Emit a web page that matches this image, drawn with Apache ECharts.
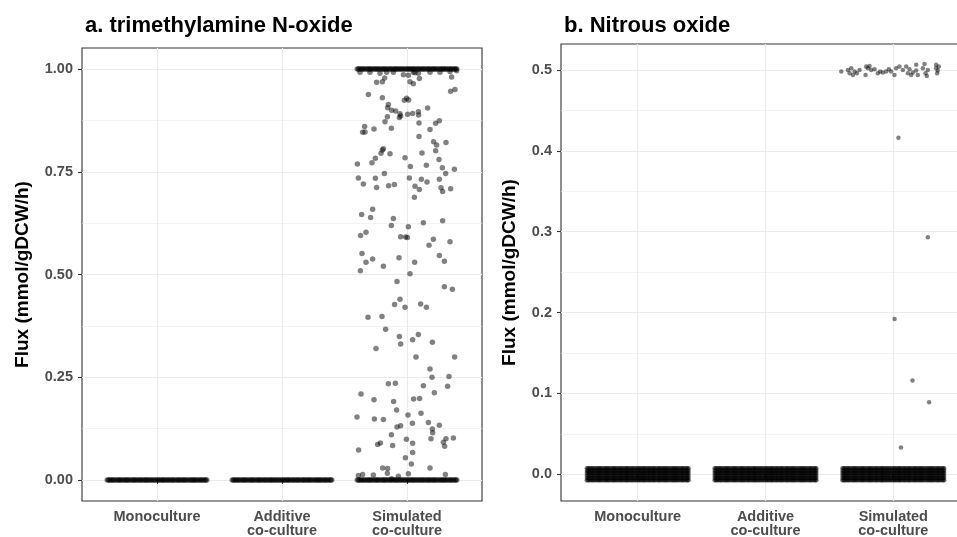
<!DOCTYPE html>
<html>
<head>
<meta charset="utf-8">
<script src="https://cdn.jsdelivr.net/npm/echarts@6/dist/echarts.min.js"></script>
<style>
  html, body { margin: 0; padding: 0; background: #fff; }
  #main { width: 957px; height: 537px; }
</style>
</head>
<body>
<div id="main"></div>
<script>
// categories on the x axis (positions 1, 2, 3)
var categories = ['Monoculture', 'Additive\nco-culture', 'Simulated\nco-culture'];
var catPos = [1, 2, 3];

// y tick labels
var yTicksA = [0, 0.25, 0.5, 0.75, 1];
var yMinorA = [0.125, 0.375, 0.625, 0.875];
var yTicksB = [0, 0.1, 0.2, 0.3, 0.4, 0.5];
var yMinorB = [0.05, 0.15, 0.25, 0.35, 0.45];

// horizontal jitter offsets used by the dense bands
var jitterX = [-0.398,-0.381,-0.36,-0.342,-0.319,-0.301,-0.282,-0.259,-0.241,-0.222,-0.198,-0.181,-0.162,-0.139,-0.121,
  -0.098,-0.082,-0.061,-0.041,-0.019,0.003,0.021,0.042,0.058,0.081,0.099,0.121,0.138,0.162,0.179,0.201,0.219,0.238,
  0.262,0.281,0.299,0.318,0.341,0.359,0.382,0.398,
  -0.389,-0.371,-0.351,-0.33,-0.309,-0.291,-0.27,-0.249,-0.231,-0.21,-0.19,-0.171,-0.15,-0.13,-0.109,-0.089,-0.071,
  -0.05,-0.03,-0.009,0.011,0.031,0.05,0.07,0.09,0.111,0.129,0.151,0.17,0.19,0.21,0.229,0.25,0.271,0.29,0.309,0.33,
  0.35,0.37,0.39];
// vertical jitter offsets of the bands in panel b
var jitterYB = [-0.0075, -0.0045, -0.0015, 0.0015, 0.0045, 0.0075];

// panel a: band levels per category
var bandLevelsA = [[0], [0], [0, 1]];
// panel a: simulated co-culture scattered points [x, flux]
var simPointsA = [
  [2.624,0.992],[2.704,0.992],[2.784,0.990],[2.837,0.992],[2.891,0.992],[3.051,0.992],[3.091,0.990],[3.184,0.992],
  [3.264,0.992],[3.344,0.994],[3.397,0.996],[2.971,0.986],[3.011,0.985],[3.064,0.991],[3.099,0.977],[3.024,0.969],
  [3.051,0.964],[3.357,0.981],[2.757,0.968],[2.803,0.969],[2.821,0.978],[2.691,0.938],[2.803,0.930],[2.979,0.924],
  [2.997,0.929],[3.013,0.925],[3.349,0.946],[3.384,0.950],[2.851,0.914],[2.845,0.906],[2.877,0.900],[2.909,0.898],
  [2.944,0.891],[2.939,0.882],[2.949,0.886],[2.843,0.884],[2.824,0.872],[3.005,0.890],[3.045,0.892],[3.091,0.896],
  [3.093,0.888],[3.165,0.905],[3.259,0.874],[3.229,0.868],[3.096,0.869],[2.661,0.860],[2.645,0.846],[2.664,0.847],
  [2.736,0.854],[2.875,0.856],[3.184,0.853],[3.096,0.836],[3.213,0.823],[3.237,0.815],[3.312,0.821],[3.229,0.801],
  [2.811,0.806],[2.803,0.803],[2.792,0.795],[2.864,0.794],[2.747,0.783],[2.720,0.772],[2.603,0.769],[2.984,0.784],
  [3.120,0.796],[3.027,0.763],[3.155,0.766],[3.256,0.780],[3.283,0.760],[3.309,0.746],[3.379,0.756],[2.611,0.735],
  [2.651,0.720],[2.747,0.734],[2.757,0.712],[2.819,0.746],[2.853,0.716],[2.899,0.719],[3.019,0.735],[3.064,0.715],
  [3.099,0.707],[3.115,0.732],[3.160,0.725],[3.259,0.732],[3.272,0.711],[3.285,0.702],[3.349,0.709],[3.059,0.688],
  [2.637,0.646],[2.709,0.639],[2.725,0.659],[2.891,0.636],[2.875,0.619],[3.011,0.616],[3.131,0.626],[3.285,0.631],
  [2.629,0.595],[2.672,0.603],[2.949,0.592],[2.989,0.591],[3.003,0.590],[3.211,0.586],
  [2.640,0.551],[2.672,0.530],[2.725,0.538],[2.627,0.509],[2.811,0.520],[2.936,0.541],[3.061,0.530],[3.024,0.502],
  [3.176,0.571],[3.344,0.580],[3.259,0.546],[3.299,0.532],[2.920,0.483],[3.299,0.470],[3.363,0.464],[2.944,0.440],
  [2.901,0.427],[2.984,0.420],[3.109,0.428],[3.155,0.420],[2.688,0.396],[2.800,0.398],[2.829,0.367],[2.939,0.349],
  [2.949,0.331],[2.752,0.320],[3.045,0.341],[3.091,0.354],[3.203,0.335],[3.072,0.299],[3.381,0.299],[3.184,0.270],
  [3.200,0.250],[3.336,0.252],[3.325,0.228],[3.131,0.229],[3.219,0.212],[2.851,0.234],[2.907,0.235],[2.632,0.209],
  [2.736,0.195],[2.893,0.191],[2.917,0.170],[3.053,0.197],[3.101,0.198],[2.600,0.153],[2.739,0.148],[2.811,0.147],
  [3.008,0.158],[3.112,0.162],[3.043,0.138],[3.171,0.140],[3.259,0.133],[2.920,0.129],[2.949,0.132],[2.875,0.110],
  [3.203,0.124],[3.205,0.115],[3.192,0.100],[3.312,0.100],[3.291,0.092],[3.301,0.082],[3.371,0.102],[2.995,0.099],
  [3.045,0.089],[3.045,0.067],[2.885,0.084],[2.765,0.086],[2.787,0.090],[2.613,0.073],[2.987,0.054],[3.035,0.039],
  [2.805,0.029],[2.845,0.028],[3.184,0.029],[2.843,0.016],[2.731,0.012],[2.611,0.011],[2.645,0.013],[2.931,0.009],
  [3.011,0.015],[3.307,0.013],[2.877,0.003]
];

// panel b: simulated co-culture points near 0.5 and the outliers [x, flux]
var simPointsB = [
  [2.593,0.4979],[2.645,0.5000],[2.658,0.4958],[2.671,0.5020],[2.684,0.4938],[2.697,0.4979],[2.715,0.4958],
  [2.736,0.5000],[2.783,0.4938],[2.788,0.5041],[2.801,0.5020],[2.814,0.5049],[2.827,0.5000],[2.853,0.5008],
  [2.879,0.4958],[2.897,0.4979],[2.918,0.4967],[2.944,0.4979],[2.965,0.5008],[2.983,0.4979],[3.009,0.4938],
  [3.022,0.5020],[3.048,0.5041],[3.075,0.5000],[3.101,0.5041],[3.114,0.4958],[3.127,0.5008],[3.140,0.4938],
  [3.153,0.4967],[3.179,0.5062],[3.179,0.4991],[3.192,0.4938],[3.231,0.5020],[3.244,0.5074],[3.252,0.4958],
  [3.270,0.5000],[3.262,0.4925],[3.335,0.5062],[3.335,0.5020],[3.348,0.4991],[3.343,0.4958],[3.356,0.5041],
  [3.040,0.416],[3.270,0.293],[3.010,0.192],[3.150,0.116],[3.280,0.089],[3.060,0.033]
];

function bandPoints(levels, yOffsets) {
  var pts = [];
  levels.forEach(function (lv, ci) {
    lv.forEach(function (level) {
      jitterX.forEach(function (dx) {
        yOffsets.forEach(function (dy) {
          pts.push([catPos[ci] + dx, level + dy]);
        });
      });
    });
  });
  return pts;
}

var font = 'Liberation Sans';
var gridColor = '#EBEBEB';
var pointColor = 'rgba(0,0,0,0.62)';

function xAxisFor(gi) {
  return {
    type: 'value', gridIndex: gi, min: 0.4, max: 3.6,
    axisLine: { show: false },
    axisTick: { show: true, customValues: catPos, length: 4, lineStyle: { color: '#333', width: 1.1 } },
    axisLabel: {
      customValues: catPos, margin: 9,
      fontFamily: font, fontSize: 14.5, fontWeight: 'bold', color: '#4D4D4D', lineHeight: 14,
      formatter: function (v) { return categories[Math.round(v) - 1]; }
    },
    splitLine: { show: true, lineStyle: { color: gridColor, width: 1.1 } }
  };
}

function yAxisFor(gi, min, max, ticks, digits, gap) {
  return {
    type: 'value', gridIndex: gi, min: min, max: max,
    name: 'Flux (mmol/gDCW/h)', nameLocation: 'middle', nameGap: gap,
    nameTextStyle: { fontFamily: font, fontSize: 19, fontWeight: 'bold', color: '#000' },
    axisLine: { show: false },
    axisTick: { show: true, customValues: ticks, length: 4, lineStyle: { color: '#333', width: 1.1 } },
    axisLabel: {
      customValues: ticks, margin: 9,
      fontFamily: font, fontSize: 14.5, fontWeight: 'bold', color: '#4D4D4D',
      formatter: function (v) { return v.toFixed(digits); }
    },
    splitLine: { show: true, lineStyle: { color: gridColor, width: 1.1 } }
  };
}

function minorAxisFor(gi, min, max, ticks) {
  return {
    type: 'value', gridIndex: gi, min: min, max: max,
    axisLine: { show: false },
    axisTick: { show: false, customValues: ticks },
    axisLabel: { show: false, customValues: ticks },
    splitLine: { show: true, lineStyle: { color: gridColor, width: 0.6 } }
  };
}

var chart = echarts.init(document.getElementById('main'));
chart.setOption({
  animation: false,
  backgroundColor: '#fff',
  title: [
    { text: 'a. trimethylamine N-oxide', left: 80, top: 10,
      textStyle: { fontFamily: font, fontSize: 22, fontWeight: 'bold', color: '#000' } },
    { text: 'b. Nitrous oxide', left: 559, top: 10,
      textStyle: { fontFamily: font, fontSize: 22, fontWeight: 'bold', color: '#000' } }
  ],
  grid: [
    { left: 82, top: 48, width: 400, height: 453, show: true, borderColor: '#333', borderWidth: 1.1,
      outerBoundsMode: 'none' },
    { left: 561, top: 44, width: 409, height: 457, show: true, borderColor: '#333', borderWidth: 1.1,
      outerBoundsMode: 'none' }
  ],
  xAxis: [xAxisFor(0), xAxisFor(1)],
  yAxis: [
    yAxisFor(0, -0.0513, 1.0513, yTicksA, 2, 50),
    yAxisFor(1, -0.033, 0.532, yTicksB, 1, 42),
    minorAxisFor(0, -0.0513, 1.0513, yMinorA),
    minorAxisFor(1, -0.033, 0.532, yMinorB)
  ],
  series: [
    { type: 'scatter', xAxisIndex: 0, yAxisIndex: 0, symbolSize: 5.5,
      itemStyle: { color: pointColor }, data: bandPoints(bandLevelsA, [0]) },
    { type: 'scatter', xAxisIndex: 0, yAxisIndex: 0, symbolSize: 5.5,
      itemStyle: { color: pointColor }, data: simPointsA },
    { type: 'scatter', xAxisIndex: 1, yAxisIndex: 1, symbolSize: 4.5,
      itemStyle: { color: pointColor }, data: bandPoints([[0], [0], [0]], jitterYB) },
    { type: 'scatter', xAxisIndex: 1, yAxisIndex: 1, symbolSize: 4.5,
      itemStyle: { color: pointColor }, data: simPointsB }
  ]
});
</script>
</body>
</html>
